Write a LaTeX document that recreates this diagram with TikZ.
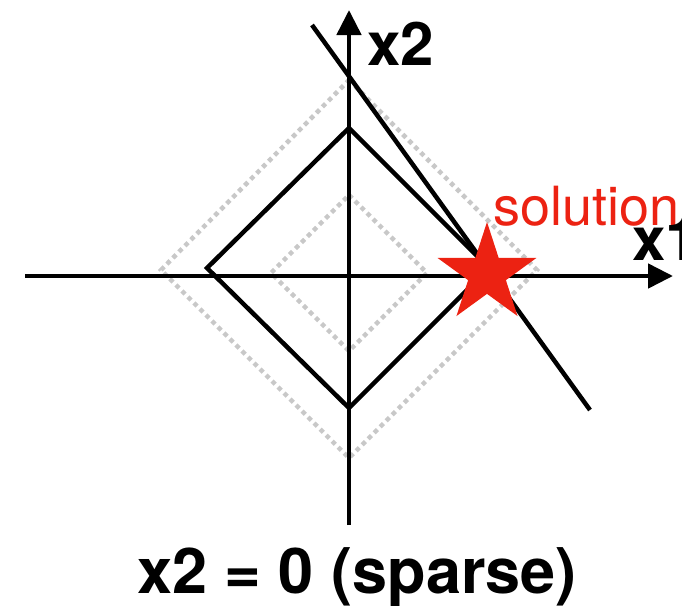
\documentclass[tikz,border=0pt]{standalone}
\usepackage{fontspec}
\setmainfont{TeX Gyre Heros}
\usepackage{tikz}
\usetikzlibrary{arrows.meta,shapes.geometric}
\usepackage{xcolor}
\definecolor{solred}{RGB}{236,34,18}
\definecolor{dotgray}{RGB}{200,200,200}

\begin{document}
\begin{tikzpicture}[
    x=1pt, y=-1pt,
    axis/.style={line width=4.8pt, -{Triangle[length=25pt,width=24pt]}},
    ball/.style={line width=4.5pt, line join=miter},
    level/.style={dotgray, line width=4.5pt, dash pattern=on 4.5pt off 4pt},
    axlbl/.style={anchor=base west, inner sep=0pt, font=\bfseries\fontsize{60}{62}\selectfont}
]
\useasboundingbox (0,0) rectangle (682,605);

% level sets (dotted)
\coordinate (ot) at (349,80);  \coordinate (ol) at (161,270);
\coordinate (ob) at (349,458); \coordinate (or) at (537,270);
\coordinate (it) at (349,195); \coordinate (il) at (271,273);
\coordinate (ib) at (349,351); \coordinate (ir) at (427,273);
\draw[level] (ot) -- (or) -- (ob) -- (ol) -- cycle;
\draw[level] (it) -- (ir) -- (ib) -- (il) -- cycle;

% axes
\coordinate (xl) at (25,276);  \coordinate (xr) at (673,276);
\coordinate (yb) at (349,525); \coordinate (yt) at (349,10);
\draw[axis] (xl) -- (xr);
\draw[axis] (yb) -- (yt);

% l1 ball
\coordinate (dt) at (349,128); \coordinate (dl) at (207,268);
\coordinate (db) at (349,408); \coordinate (dr) at (489,268);
\draw[ball] (dt) -- (dr) -- (db) -- (dl) -- cycle;

% constraint line
\coordinate (la) at (312,25); \coordinate (lb) at (590,410);
\draw[ball, line cap=butt] (la) -- (lb);

% solution
\node[star, star points=5, star point ratio=2.618, minimum size=104pt,
      inner sep=0pt, fill=solred] (sol) at (487,274) {};
\node[anchor=base west, inner sep=0pt, text=solred,
      font=\fontsize{54}{56}\selectfont] (soltxt) at (493,225) {solution};

\node[axlbl] (x2lbl) at (367,65) {x2};
\node[axlbl] (x1lbl) at (632,260) {x1};

\node[anchor=base, inner sep=0pt, font=\bfseries\fontsize{63}{66}\selectfont]
     (caption) at (357,593) {x2 = 0 (sparse)};
\end{tikzpicture}
\end{document}
